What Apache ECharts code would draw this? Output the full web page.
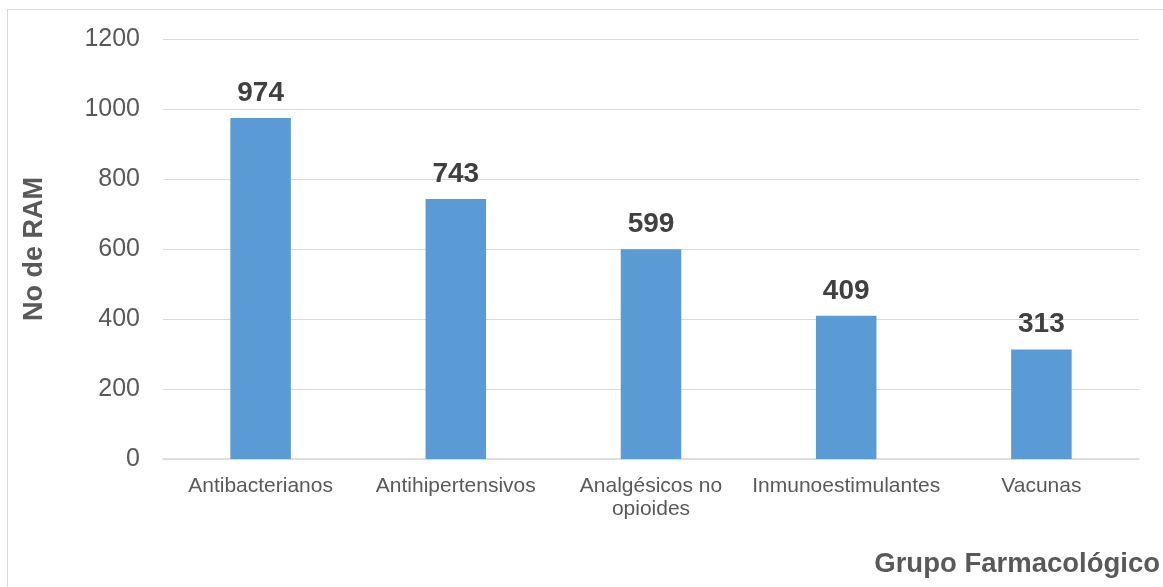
<!DOCTYPE html>
<html>
<head>
<meta charset="utf-8">
<script src="https://cdn.jsdelivr.net/npm/echarts@6/dist/echarts.min.js"></script>
<style>
  html, body { margin: 0; padding: 0; background: #fff; }
  #frame { position: absolute; left: 7px; top: 9px; width: 1170px; height: 600px; border: 1px solid #d9d9d9; box-sizing: border-box; }
  #chart { position: absolute; left: 0; top: 0; width: 1163px; height: 587px; }
</style>
</head>
<body>
<div id="frame"></div>
<div id="chart"></div>
<script>
const categories = ['Antibacterianos', 'Antihipertensivos', 'Analgésicos no\nopioides', 'Inmunoestimulantes', 'Vacunas'];
const values = [974, 743, 599, 409, 313];
const yTicks = { min: 0, max: 1200, interval: 200 };

const FONT = 'Liberation Sans, Arial, sans-serif';

const chart = echarts.init(document.getElementById('chart'), null, { renderer: 'canvas' });
chart.setOption({
  backgroundColor: 'transparent',
  animation: false,
  grid: { left: 163, right: 24, top: 39, bottom: 128 },
  title: {
    text: 'Grupo Farmacológico',
    right: 3, top: 550, padding: 0,
    textStyle: { fontFamily: FONT, fontWeight: 'bold', fontSize: 27.5, color: '#595959' }
  },
  xAxis: {
    type: 'category',
    data: categories,
    axisLine: { lineStyle: { color: '#d9d9d9', width: 1.5 } },
    axisTick: { show: false },
    axisLabel: {
      interval: 0, margin: 16, color: '#595959', fontSize: 21, lineHeight: 23,
      fontFamily: FONT
    }
  },
  yAxis: {
    type: 'value',
    min: yTicks.min, max: yTicks.max, interval: yTicks.interval,
    name: 'No de RAM',
    nameLocation: 'middle',
    nameGap: 115,
    nameTextStyle: { fontFamily: FONT, fontWeight: 'bold', fontSize: 27, color: '#595959' },
    axisLine: { show: false },
    axisTick: { show: false },
    splitLine: { lineStyle: { color: '#d9d9d9', width: 1.2 } },
    axisLabel: {
      margin: 23, color: '#595959', fontSize: 25, fontFamily: FONT,
      formatter: v => String(v)
    }
  },
  series: [{
    type: 'bar',
    data: values,
    barWidth: '31%',
    itemStyle: { color: '#5b9bd5' },
    label: {
      show: true, position: 'top', distance: 11,
      color: '#404040', fontWeight: 'bold', fontSize: 28,
      fontFamily: FONT
    }
  }]
});
</script>
</body>
</html>
